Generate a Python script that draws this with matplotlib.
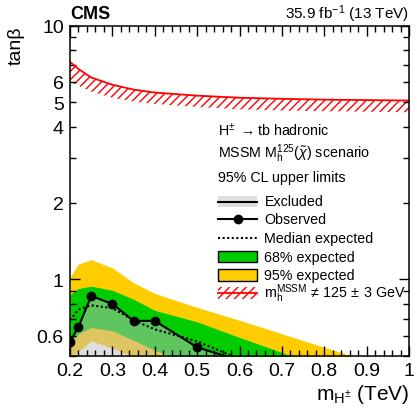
import matplotlib
matplotlib.use('Agg')
import matplotlib.pyplot as plt
from matplotlib.patches import Rectangle
from matplotlib.lines import Line2D

# charged Higgs mass points (TeV) and tan(beta) limits
mass = [0.2, 0.22, 0.25, 0.3, 0.35, 0.4, 0.5, 0.6, 0.7, 0.8, 0.9, 1.0]
observed = [0.567, 0.649, 0.86, 0.80, 0.686, 0.686, 0.54, 0.478, 0.44, 0.41, 0.38, 0.36]
expected = [0.69, 0.76, 0.79, 0.77, 0.69, 0.635, 0.57, 0.485, 0.43, 0.40, 0.37, 0.35]
exp68_lo = [0.55, 0.61, 0.646, 0.627, 0.575, 0.525, 0.46, 0.40, 0.36, 0.33, 0.31, 0.29]
exp68_hi = [0.87, 0.92, 0.94, 0.905, 0.835, 0.755, 0.68, 0.59, 0.515, 0.44, 0.41, 0.39]
exp95_lo = [0.47, 0.52, 0.572, 0.535, 0.497, 0.46, 0.41, 0.36, 0.32, 0.29, 0.27, 0.25]
exp95_hi = [1.02, 1.15, 1.195, 1.11, 0.97, 0.88, 0.775, 0.69, 0.61, 0.54, 0.478, 0.43]
# region where m_h(MSSM) != 125 +- 3 GeV
mh_hi = [7.2, 6.75, 6.25, 5.85, 5.6, 5.45, 5.3, 5.2, 5.15, 5.11, 5.09, 5.07]
mh_lo = [6.0, 5.8, 5.5, 5.2, 5.02, 4.92, 4.78, 4.68, 4.63, 4.6, 4.58, 4.56]

xticks = [0.2, 0.3, 0.4, 0.5, 0.6, 0.7, 0.8, 0.9, 1.0]
xlabels = ['0.2', '0.3', '0.4', '0.5', '0.6', '0.7', '0.8', '0.9', '1']
ymajor = [1, 10]
yminor = [0.5, 0.6, 0.7, 0.8, 0.9, 2, 3, 4, 5, 6, 7, 8, 9]
yminor_labels = ['', '0.6', '', '', '', '2', '', '4', '5', '6', '', '', '']

GREEN = '#00cc00'
YELLOW = '#ffcc00'
EXCL = '#bfbfbf'

plt.rcParams['font.family'] = ['Liberation Sans', 'DejaVu Sans']
plt.rcParams['mathtext.fontset'] = 'custom'
plt.rcParams['mathtext.rm'] = 'Liberation Sans'
plt.rcParams['mathtext.it'] = 'Liberation Sans:italic'
plt.rcParams['mathtext.bf'] = 'Liberation Sans:bold'
plt.rcParams['hatch.linewidth'] = 1.0

W, H = 417, 410
fig = plt.figure(figsize=(W / 100, H / 100), dpi=100)
ax = fig.add_axes([70 / W, 1 - 356.7 / H, 339 / W, 330 / H])


def fx(px):
    return px / W


def fy(py):
    return 1 - py / H


# expected bands
ax.fill_between(mass, exp95_lo, exp95_hi, color=YELLOW, lw=0)
ax.fill_between(mass, exp68_lo, exp68_hi, color=GREEN, lw=0)
ax.plot(mass, expected, color='k', lw=1.5, ls=(0, (1.0, 1.2)))
# excluded area below the observed limit
ax.fill_between(mass, 0.1, observed, color=EXCL, alpha=0.5, lw=0)
ax.plot(mass, observed, color='k', lw=1.5, marker='o', ms=6)
# mh constraint
ax.fill_between(mass, mh_lo, mh_hi, facecolor='none', edgecolor='red', hatch='////', lw=0)
ax.plot(mass, mh_hi, color='red', lw=1.3)

ax.set_yscale('log')
ax.set_xlim(0.2, 1.0)
ax.set_ylim(0.5, 10)
ax.set_xticks(xticks)
ax.set_xticklabels(xlabels)
ax.set_xticks([0.2 + 0.02 * i for i in range(41)], minor=True)
ax.set_yticks(ymajor)
ax.set_yticklabels(['1', '10'])
ax.set_yticks(yminor, minor=True)
ax.set_yticklabels(yminor_labels, minor=True)
ax.tick_params(which='both', direction='in', top=True, right=True, labelsize=14, pad=4.5)
ax.tick_params(which='major', length=7.5, width=1.0)
ax.tick_params(which='minor', length=4, width=1.0)
for s in ax.spines.values():
    s.set_linewidth(1.1)

ax.text(-0.158, 1.0, 'tanβ', rotation=90, ha='center', va='top', fontsize=14, transform=ax.transAxes)
ax.text(1.0, -0.116, r'm$_{\rm H^{\pm}}$ (TeV)', ha='right', va='center', fontsize=15, transform=ax.transAxes)

fig.text(fx(70), fy(19), 'CMS', fontsize=13, weight='bold', va='baseline', ha='left')
fig.text(fx(409), fy(19), r'35.9 fb$^{-1}$ (13 TeV)', fontsize=11, va='baseline', ha='right')

# legend, drawn by hand to follow the ROOT layout
fs = 10.3
fig.text(fx(217.5), fy(136.7), r'H$^{\pm}$ $\rightarrow$tb hadronic', fontsize=fs, va='baseline')
fig.text(fx(217.5), fy(158.3), r'MSSM M$_{\rm h}^{125}$($\tilde{\chi}$) scenario', fontsize=fs, va='baseline')
fig.text(fx(217.5), fy(182.3), '95% CL upper limits', fontsize=fs, va='baseline')

hx0, hx1, tx = 218, 257, 264.5
rows = [
    ('Excluded', 206.0, 202.5),
    ('Observed', 224.3, 220.0),
    ('Median expected', 243.3, 239.0),
    ('68% expected', 261.7, 257.5),
    ('95% expected', 280.0, 276.0),
    (r'm$_{\rm h}^{\rm MSSM}\,\neq\,$125$\,\pm\,$3 GeV', 297.7, 294.0),
]
for label, base, yc in rows:
    fig.text(fx(tx), fy(base), label, fontsize=fs, va='baseline')

bh = 11.5
_, _, yc = rows[0]
fig.add_artist(Rectangle((fx(hx0), fy(yc + bh / 2)), fx(hx1 - hx0), bh / H, transform=fig.transFigure,
                         facecolor=EXCL, alpha=0.5, lw=0))
fig.add_artist(Line2D([fx(hx0), fx(hx1)], [fy(yc), fy(yc)], transform=fig.transFigure, color='k', lw=1.5))
_, _, yc = rows[1]
fig.add_artist(Line2D([fx(hx0), fx(hx1)], [fy(yc), fy(yc)], transform=fig.transFigure, color='k', lw=1.5))
fig.add_artist(Line2D([fx((hx0 + hx1) / 2)], [fy(yc)], transform=fig.transFigure, color='k', marker='o', ms=6))
_, _, yc = rows[2]
fig.add_artist(Line2D([fx(hx0), fx(hx1)], [fy(yc), fy(yc)], transform=fig.transFigure, color='k', lw=1.5,
                      ls=(0, (1.0, 1.2))))
for (_, _, yc), col in zip(rows[3:5], [GREEN, YELLOW]):
    fig.add_artist(Rectangle((fx(hx0), fy(yc + bh / 2)), fx(hx1 - hx0), bh / H, transform=fig.transFigure,
                             facecolor=col, edgecolor='k', lw=1.0))
_, _, yc = rows[5]
fig.add_artist(Rectangle((fx(hx0), fy(yc + bh / 2)), fx(hx1 - hx0), bh / H, transform=fig.transFigure,
                         facecolor='none', edgecolor='red', hatch='////', lw=0))
fig.add_artist(Line2D([fx(hx0), fx(hx1)], [fy(yc), fy(yc)], transform=fig.transFigure, color='red', lw=1.3))

fig.savefig('out.png', dpi=100)
plt.close('all')
